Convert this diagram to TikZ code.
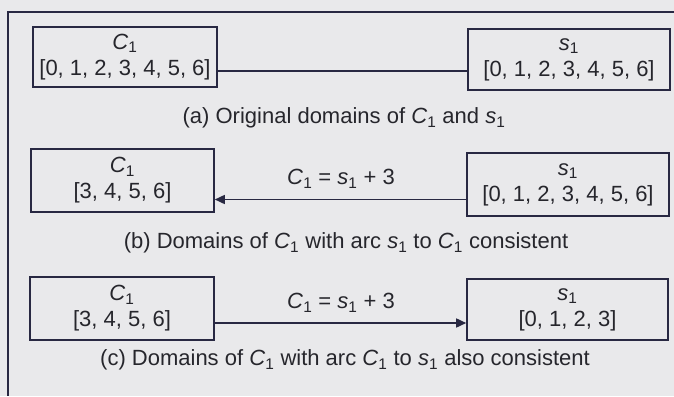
\documentclass[tikz,border=0pt]{standalone}
\usepackage{fontspec}
\setmainfont{Liberation Sans}
\usetikzlibrary{arrows.meta}
\definecolor{ink}{RGB}{40,40,66}
\definecolor{txt}{RGB}{38,38,44}
\definecolor{paper}{RGB}{233,233,235}
\newcommand\myC{\textit{C}\textsubscript{1}}
\newcommand\mys{\textit{s}\textsubscript{1}}
\begin{document}
\begin{tikzpicture}[x=1pt,y=-1pt,
  font=\fontsize{22}{26}\selectfont, text=txt,
  dombox/.style={draw=ink, line width=1.6pt, align=center, inner sep=0pt},
  link/.style={draw=ink, line width=1.6pt},
  tip/.style={-{Triangle[length=10pt,width=9pt]}}]
\fill[paper] (0,0) rectangle (674,396);
\useasboundingbox (0,0) rectangle (674,396);
\draw[ink, line width=1.6pt] (674,12) -- (8,12) -- (8,396);

% row (a)
\node[dombox, minimum width=184pt, minimum height=60pt] (aL) at (125,57)
  {\myC\\{[0, 1, 2, 3, 4, 5, 6]}};
\node[dombox, minimum width=202pt, minimum height=61pt] (aR) at (569,59.5)
  {\mys\\{[0, 1, 2, 3, 4, 5, 6]}};
\coordinate (ya) at (0,71);
\draw[link] (aL.east |- ya) -- (aR.west |- ya);
\node (capa) at (344,118) {(a) Original domains of \myC{} and \mys};

% row (b)
\node[dombox, minimum width=183pt, minimum height=63pt] (bL) at (122.5,180.5)
  {\myC\\{[3, 4, 5, 6]}};
\node[dombox, minimum width=202pt, minimum height=63pt] (bR) at (568,184.5)
  {\mys\\{[0, 1, 2, 3, 4, 5, 6]}};
\coordinate (yb) at (0,199.5);
\draw[link,tip] (bR.west |- yb) -- (bL.east |- yb);
\node (lb) at (341,179) {\myC{} = \mys{} + 3};
\node (capb) at (346,243) {(b) Domains of \myC{} with arc \mys{} to \myC{} consistent};

% row (c)
\node[dombox, minimum width=184pt, minimum height=63pt] (cL) at (122,308.5)
  {\myC\\{[3, 4, 5, 6]}};
\node[dombox, minimum width=201pt, minimum height=61pt] (cR) at (567.5,309.5)
  {\mys\\{[0, 1, 2, 3]}};
\coordinate (yc) at (0,323);
\draw[link,tip] (cL.east |- yc) -- (cR.west |- yc);
\node (lc) at (341,303) {\myC{} = \mys{} + 3};
\node (capc) at (345,360) {(c) Domains of \myC{} with arc \myC{} to \mys{} also consistent};
\end{tikzpicture}
\end{document}
